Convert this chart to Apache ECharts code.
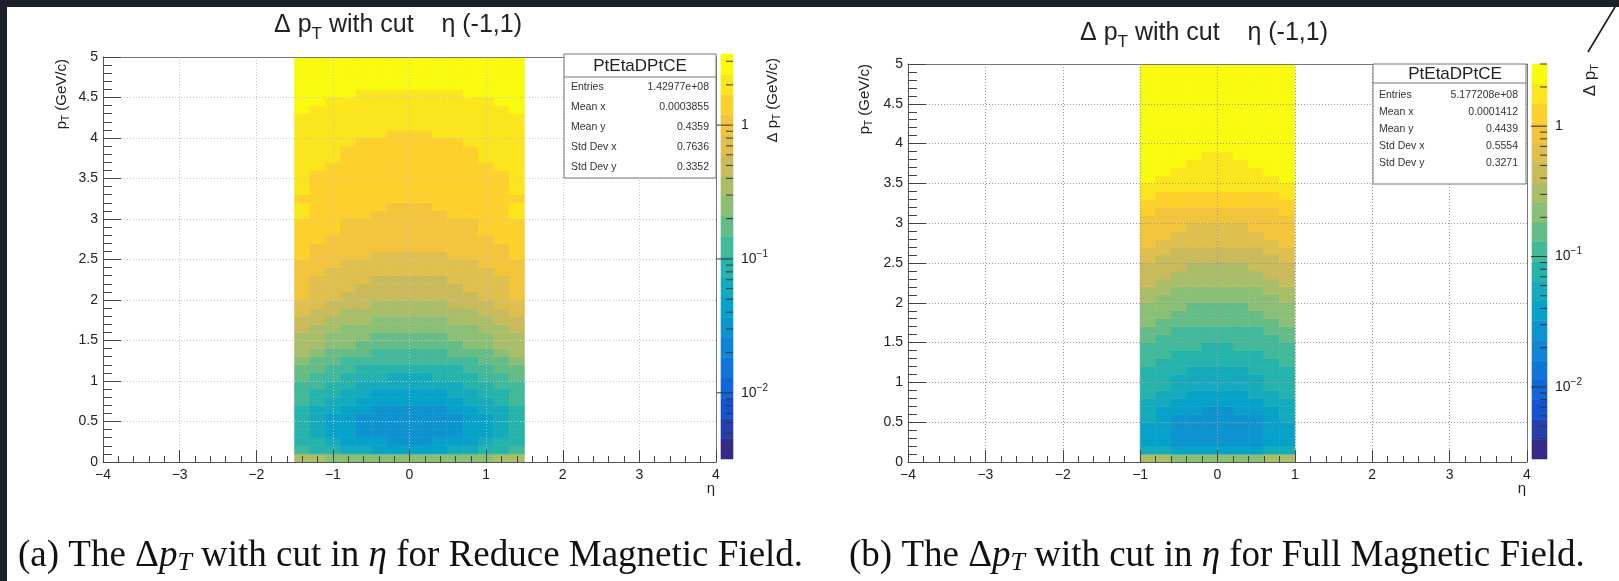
<!DOCTYPE html>
<html><head><meta charset="utf-8">
<script src="https://cdn.jsdelivr.net/npm/echarts@6/dist/echarts.min.js"></script>
<style>html,body{margin:0;padding:0;background:#fff}#c{width:1619px;height:581px}</style>
</head><body><div id="c"></div>
<script>
// ---------------- data ----------------
const ptEdges = [0,0.1,0.2,0.3,0.4,0.5,0.6,0.7,0.8,0.9,1,1.1,1.2,1.3,1.4,1.5,1.6,1.7,1.8,1.9,2,
  2.1,2.2,2.3,2.4,2.5,2.6,2.7,2.8,2.9,3,3.1,3.2,3.3,3.4,3.5,3.6,3.7,3.8,3.9,4,4.1,4.2,4.3,4.4,4.5,4.6,4.7,4.8,4.9,5];
const leftEtaEdges = [-1.5,-1.3,-1.1,-0.9,-0.7,-0.5,-0.3,-0.1,0.1,0.3,0.5,0.7,0.9,1.1,1.3,1.5];
const rightEtaEdges = [-1,-0.8,-0.6,-0.4,-0.2,0,0.2,0.4,0.6,0.8,1];
// mean delta pT (GeV/c) per bin, rows from pT = 0 upward
const leftValues = [
 [0.35,0.35,0.25,0.25,0.25,0.25,0.25,0.25,0.25,0.25,0.25,0.25,0.25,0.35,0.35],
 [0.12,0.087,0.087,0.062,0.062,0.044,0.044,0.044,0.044,0.044,0.062,0.062,0.087,0.087,0.12],
 [0.087,0.087,0.062,0.044,0.044,0.044,0.031,0.031,0.031,0.044,0.044,0.044,0.062,0.087,0.087],
 [0.087,0.062,0.044,0.044,0.031,0.031,0.031,0.031,0.031,0.031,0.031,0.044,0.044,0.062,0.087],
 [0.087,0.062,0.044,0.044,0.031,0.031,0.030,0.030,0.030,0.031,0.031,0.044,0.044,0.062,0.087],
 [0.087,0.062,0.044,0.044,0.031,0.031,0.031,0.030,0.031,0.031,0.031,0.044,0.044,0.062,0.087],
 [0.087,0.062,0.062,0.044,0.044,0.032,0.032,0.032,0.032,0.032,0.044,0.044,0.062,0.062,0.087],
 [0.12,0.087,0.062,0.062,0.044,0.044,0.044,0.044,0.044,0.044,0.044,0.062,0.062,0.087,0.12],
 [0.12,0.087,0.087,0.062,0.062,0.046,0.046,0.046,0.046,0.046,0.062,0.062,0.087,0.087,0.12],
 [0.12,0.12,0.087,0.087,0.062,0.062,0.062,0.062,0.062,0.062,0.062,0.087,0.087,0.12,0.12],
 [0.17,0.12,0.12,0.087,0.087,0.087,0.065,0.065,0.065,0.087,0.087,0.087,0.12,0.12,0.17],
 [0.17,0.17,0.12,0.12,0.087,0.087,0.087,0.087,0.087,0.087,0.087,0.12,0.12,0.17,0.17],
 [0.25,0.17,0.17,0.12,0.12,0.12,0.12,0.12,0.12,0.12,0.12,0.12,0.17,0.17,0.25],
 [0.35,0.25,0.17,0.17,0.17,0.12,0.12,0.12,0.12,0.12,0.17,0.17,0.17,0.25,0.35],
 [0.35,0.35,0.25,0.25,0.17,0.17,0.17,0.17,0.17,0.17,0.17,0.25,0.25,0.35,0.35],
 [0.35,0.35,0.25,0.25,0.25,0.18,0.18,0.18,0.18,0.18,0.25,0.25,0.25,0.35,0.35],
 [0.50,0.35,0.35,0.25,0.25,0.25,0.25,0.25,0.25,0.25,0.25,0.25,0.35,0.35,0.50],
 [0.50,0.50,0.35,0.35,0.35,0.26,0.26,0.26,0.26,0.26,0.35,0.35,0.35,0.50,0.50],
 [0.70,0.50,0.50,0.35,0.35,0.35,0.35,0.35,0.35,0.35,0.35,0.35,0.50,0.50,0.70],
 [0.70,0.70,0.50,0.50,0.50,0.37,0.37,0.37,0.37,0.37,0.50,0.50,0.50,0.70,0.70],
 [1.0,0.70,0.70,0.50,0.50,0.50,0.50,0.50,0.50,0.50,0.50,0.50,0.70,0.70,1.0],
 [1.0,0.70,0.70,0.70,0.50,0.50,0.50,0.50,0.50,0.50,0.50,0.70,0.70,0.70,1.0],
 [1.0,0.72,0.72,0.72,0.72,0.52,0.52,0.52,0.52,0.52,0.72,0.72,0.72,0.72,1.0],
 [1.0,1.0,0.70,0.70,0.70,0.70,0.70,0.70,0.70,0.70,0.70,0.70,0.70,1.0,1.0],
 [1.0,1.0,1.0,0.72,0.72,0.72,0.72,0.72,0.72,0.72,0.72,0.72,1.0,1.0,1.0],
 [1.4,1.0,1.0,1.0,1.0,0.75,0.75,0.75,0.75,0.75,1.0,1.0,1.0,1.0,1.4],
 [1.4,1.0,1.0,1.0,1.0,1.0,1.0,1.0,1.0,1.0,1.0,1.0,1.0,1.0,1.4],
 [1.4,1.4,1.0,1.0,1.0,1.0,1.0,1.0,1.0,1.0,1.0,1.0,1.0,1.4,1.4],
 [1.4,1.4,1.4,1.0,1.0,1.0,1.0,1.0,1.0,1.0,1.0,1.0,1.4,1.4,1.4],
 [1.4,1.4,1.4,1.05,1.05,1.05,1.05,1.05,1.05,1.05,1.05,1.05,1.4,1.4,1.4],
 [2.0,1.4,1.4,1.4,1.4,1.1,1.1,1.1,1.1,1.1,1.4,1.4,1.4,1.4,2.0],
 [2.0,1.4,1.4,1.4,1.4,1.4,1.12,1.12,1.12,1.4,1.4,1.4,1.4,1.4,2.0],
 [1.4,1.4,1.4,1.4,1.4,1.4,1.4,1.4,1.4,1.4,1.4,1.4,1.4,1.4,1.4],
 [2.0,1.4,1.4,1.4,1.4,1.4,1.4,1.4,1.4,1.4,1.4,1.4,1.4,1.4,2.0],
 [2.0,1.45,1.45,1.45,1.45,1.45,1.45,1.45,1.45,1.45,1.45,1.45,1.45,1.45,2.0],
 [2.0,1.5,1.5,1.5,1.5,1.5,1.5,1.5,1.5,1.5,1.5,1.5,1.5,1.5,2.0],
 [2.0,2.0,1.5,1.5,1.5,1.5,1.5,1.5,1.5,1.5,1.5,1.5,1.5,2.0,2.0],
 [2.0,2.0,2.0,1.55,1.55,1.55,1.55,1.55,1.55,1.55,1.55,1.55,2.0,2.0,2.0],
 [2.0,2.0,2.0,1.6,1.6,1.6,1.6,1.6,1.6,1.6,1.6,1.6,2.0,2.0,2.0],
 [2.0,2.0,2.0,2.0,1.6,1.6,1.6,1.6,1.6,1.6,1.6,2.0,2.0,2.0,2.0],
 [2.0,2.0,2.0,2.0,2.0,2.0,1.65,1.65,1.65,2.0,2.0,2.0,2.0,2.0,2.0],
 [2.0,2.0,2.0,2.0,2.0,2.0,2.0,2.0,2.0,2.0,2.0,2.0,2.0,2.0,2.0],
 [2.1,2.1,2.1,2.1,2.1,2.1,2.1,2.1,2.1,2.1,2.1,2.1,2.1,2.1,2.1],
 [2.8,2.2,2.2,2.2,2.2,2.2,2.2,2.2,2.2,2.2,2.2,2.2,2.2,2.2,2.8],
 [2.8,2.8,2.2,2.2,2.2,2.2,2.2,2.2,2.2,2.2,2.2,2.2,2.2,2.8,2.8],
 [2.8,2.8,2.8,2.8,2.3,2.3,2.3,2.3,2.3,2.3,2.3,2.8,2.8,2.8,2.8],
 [2.8,2.8,2.8,2.8,2.8,2.8,2.8,2.8,2.8,2.8,2.8,2.8,2.8,2.8,2.8],
 [2.8,2.8,2.8,2.8,2.8,2.8,2.8,2.8,2.8,2.8,2.8,2.8,2.8,2.8,2.8],
 [2.9,2.9,2.9,2.9,2.9,2.9,2.9,2.9,2.9,2.9,2.9,2.9,2.9,2.9,2.9],
 [3.0,3.0,3.0,3.0,3.0,3.0,3.0,3.0,3.0,3.0,3.0,3.0,3.0,3.0,3.0]
];
const rightValues = [
 [0.31,0.31,0.22,0.22,0.22,0.22,0.22,0.22,0.31,0.31],
 [0.054,0.054,0.038,0.038,0.038,0.038,0.038,0.038,0.054,0.054],
 [0.038,0.038,0.027,0.027,0.027,0.027,0.027,0.027,0.038,0.038],
 [0.038,0.038,0.027,0.026,0.026,0.026,0.026,0.027,0.038,0.038],
 [0.038,0.038,0.027,0.026,0.026,0.026,0.026,0.027,0.038,0.038],
 [0.054,0.038,0.027,0.027,0.027,0.027,0.027,0.027,0.038,0.054],
 [0.054,0.038,0.038,0.038,0.028,0.028,0.038,0.038,0.038,0.054],
 [0.054,0.054,0.038,0.038,0.038,0.038,0.038,0.038,0.054,0.054],
 [0.077,0.054,0.054,0.040,0.040,0.040,0.040,0.054,0.054,0.077],
 [0.077,0.077,0.054,0.054,0.054,0.054,0.054,0.054,0.077,0.077],
 [0.077,0.077,0.056,0.056,0.056,0.056,0.056,0.056,0.077,0.077],
 [0.077,0.077,0.077,0.058,0.058,0.058,0.058,0.077,0.077,0.077],
 [0.11,0.077,0.077,0.077,0.077,0.077,0.077,0.077,0.077,0.11],
 [0.11,0.11,0.080,0.080,0.080,0.080,0.080,0.080,0.11,0.11],
 [0.11,0.11,0.11,0.11,0.085,0.085,0.11,0.11,0.11,0.11],
 [0.155,0.11,0.11,0.11,0.11,0.11,0.11,0.11,0.11,0.155],
 [0.155,0.155,0.12,0.12,0.12,0.12,0.12,0.12,0.155,0.155],
 [0.22,0.155,0.155,0.155,0.155,0.155,0.155,0.155,0.155,0.22],
 [0.22,0.22,0.155,0.155,0.155,0.155,0.155,0.155,0.22,0.22],
 [0.22,0.22,0.22,0.165,0.165,0.165,0.165,0.22,0.22,0.22],
 [0.31,0.22,0.22,0.22,0.22,0.22,0.22,0.22,0.22,0.31],
 [0.31,0.31,0.23,0.23,0.23,0.23,0.23,0.23,0.31,0.31],
 [0.44,0.31,0.31,0.31,0.31,0.31,0.31,0.31,0.31,0.44],
 [0.44,0.44,0.31,0.31,0.31,0.31,0.31,0.31,0.44,0.44],
 [0.44,0.44,0.44,0.33,0.33,0.33,0.33,0.44,0.44,0.44],
 [0.63,0.44,0.44,0.44,0.44,0.44,0.44,0.44,0.44,0.63],
 [0.63,0.63,0.44,0.44,0.44,0.44,0.44,0.44,0.63,0.63],
 [0.89,0.63,0.63,0.63,0.63,0.63,0.63,0.63,0.63,0.89],
 [0.89,0.89,0.63,0.63,0.63,0.63,0.63,0.63,0.89,0.89],
 [0.89,0.89,0.89,0.66,0.66,0.66,0.66,0.89,0.89,0.89],
 [0.89,0.89,0.89,0.89,0.89,0.89,0.89,0.89,0.89,0.89],
 [1.26,0.92,0.92,0.92,0.92,0.92,0.92,0.92,0.92,1.26],
 [1.26,1.26,1.26,1.26,1.26,1.26,1.26,1.26,1.26,1.26],
 [1.79,1.30,1.30,1.30,1.30,1.30,1.30,1.30,1.30,1.79],
 [1.79,1.79,1.79,1.79,1.79,1.79,1.79,1.79,1.79,1.79],
 [2.5,1.79,1.79,1.79,1.79,1.79,1.79,1.79,1.79,2.5],
 [2.5,2.5,1.85,1.85,1.85,1.85,1.85,1.85,2.5,2.5],
 [2.5,2.5,2.5,1.9,1.9,1.9,1.9,2.5,2.5,2.5],
 [2.5,2.5,2.5,2.5,2.0,2.0,2.5,2.5,2.5,2.5],
 [2.5,2.5,2.5,2.5,2.5,2.5,2.5,2.5,2.5,2.5],
 [2.5,2.5,2.5,2.5,2.5,2.5,2.5,2.5,2.5,2.5],
 [2.5,2.5,2.5,2.5,2.5,2.5,2.5,2.5,2.5,2.5],
 [2.55,2.55,2.55,2.55,2.55,2.55,2.55,2.55,2.55,2.55],
 [2.55,2.55,2.55,2.55,2.55,2.55,2.55,2.55,2.55,2.55],
 [2.6,2.6,2.6,2.6,2.6,2.6,2.6,2.6,2.6,2.6],
 [2.6,2.6,2.6,2.6,2.6,2.6,2.6,2.6,2.6,2.6],
 [2.65,2.65,2.65,2.65,2.65,2.65,2.65,2.65,2.65,2.65],
 [2.65,2.65,2.65,2.65,2.65,2.65,2.65,2.65,2.65,2.65],
 [2.7,2.7,2.7,2.7,2.7,2.7,2.7,2.7,2.7,2.7],
 [2.7,2.7,2.7,2.7,2.7,2.7,2.7,2.7,2.7,2.7]
];
const leftZRange = [0.0032, 3.4];
const rightZRange = [0.0028, 3.0];
const cbMajorTicks = [0.01, 0.1, 1];
const cbMinorTicks = [0.004,0.005,0.006,0.007,0.008,0.009,0.02,0.03,0.04,0.05,0.06,0.07,0.08,0.09,0.2,0.3,0.4,0.5,0.6,0.7,0.8,0.9,2,3];
const statNames = ['Entries', 'Mean x', 'Mean y', 'Std Dev x', 'Std Dev y'];
const leftStats = ['1.42977e+08', '0.0003855', '0.4359', '0.7636', '0.3352'];
const rightStats = ['5.177208e+08', '0.0001412', '0.4439', '0.5554', '0.3271'];
const histName = 'PtEtaDPtCE';
const plotTitleText = '\u0394 p{sub|T} with cut    \u03b7 (-1,1)';
const captionA = '(a) The \u0394{it|p}{sub|T} with cut in {it|\u03b7} for Reduce Magnetic Field.';
const captionB = '(b) The \u0394{it|p}{sub|T} with cut in {it|\u03b7} for Full Magnetic Field.';

// ---------------- styling / helpers ----------------
const FONT = 'Liberation Sans';
const SERIF = 'Liberation Serif';
const DARK = '#1c2029';
const NCONT = 20;
const birdStops = [0, 0.125, 0.25, 0.375, 0.5, 0.625, 0.75, 0.875, 1];
const birdR = [0.2082, 0.0592, 0.0780, 0.0232, 0.1802, 0.5301, 0.8186, 0.9956, 0.9764];
const birdG = [0.1664, 0.3599, 0.5041, 0.6419, 0.7178, 0.7492, 0.7328, 0.7862, 0.9832];
const birdB = [0.5293, 0.8684, 0.8385, 0.7914, 0.6425, 0.4662, 0.3499, 0.1968, 0.0539];
function bird(t) {
  t = Math.max(0, Math.min(1, t));
  let k = 0;
  while (k < birdStops.length - 2 && t > birdStops[k + 1]) k++;
  const f = (t - birdStops[k]) / (birdStops[k + 1] - birdStops[k]);
  const c = a => Math.round(255 * (a[k] + (a[k + 1] - a[k]) * f));
  return 'rgb(' + c(birdR) + ',' + c(birdG) + ',' + c(birdB) + ')';
}
function levelOf(v, zr) {
  const a = Math.log10(zr[0]), b = Math.log10(zr[1]);
  let i = Math.floor((Math.log10(v) - a) / (b - a) * NCONT);
  return Math.max(0, Math.min(NCONT - 1, i));
}
function levelColor(i) { return bird(i / (NCONT - 1)); }

function buildCells(etaEdges, values) {
  const out = [];
  for (let r = 0; r < values.length; r++)
    for (let c = 0; c < values[r].length; c++)
      out.push([etaEdges[c], etaEdges[c + 1], ptEdges[r], ptEdges[r + 1], values[r][c]]);
  return out;
}
function buildBands(zr) {
  const a = Math.log10(zr[0]), b = Math.log10(zr[1]);
  const out = [];
  for (let i = 0; i < NCONT; i++)
    out.push([0, 1, Math.pow(10, a + (b - a) * i / NCONT), Math.pow(10, a + (b - a) * (i + 1) / NCONT), i]);
  return out;
}
function buildTicks() {
  return cbMajorTicks.map(v => [1, v, 16]).concat(cbMinorTicks.map(v => [1, v, 7]));
}
function heatRender(zr) {
  return function (params, api) {
    const a = api.coord([api.value(0), api.value(3)]);
    const b = api.coord([api.value(1), api.value(2)]);
    const col = levelColor(levelOf(api.value(4), zr));
    return { type: 'rect', shape: { x: a[0], y: a[1], width: b[0] - a[0], height: b[1] - a[1] },
      style: { fill: col, stroke: col, lineWidth: 0.6 } };
  };
}
function bandRender(params, api) {
  const a = api.coord([api.value(0), api.value(3)]);
  const b = api.coord([api.value(1), api.value(2)]);
  const col = levelColor(api.value(4));
  return { type: 'rect', shape: { x: a[0], y: a[1], width: b[0] - a[0], height: b[1] - a[1] },
    style: { fill: col, stroke: col, lineWidth: 0.6 } };
}
function tickRender(params, api) {
  const p = api.coord([api.value(0), api.value(1)]);
  const len = api.value(2);
  return { type: 'line', shape: { x1: p[0] - len, y1: p[1], x2: p[0], y2: p[1] },
    style: { stroke: '#333', lineWidth: 1 } };
}
const minusFmt = v => (v < 0 ? '\u2212' + (-v) : String(v));
function mainX(gi, gridColor) {
  return { type: 'value', gridIndex: gi, min: -4, max: 4, interval: 1, z: 5,
    axisLine: { show: true, onZero: false, lineStyle: { color: '#555', width: 1 } },
    axisTick: { show: true, inside: true, length: 12, lineStyle: { color: '#444' } },
    minorTick: { show: true, splitNumber: 5, length: 6, lineStyle: { color: '#444' } },
    splitLine: { show: true, lineStyle: { color: gridColor, type: [1, 2], width: 1 } },
    axisLabel: { margin: 6, fontSize: 14, color: '#222', fontFamily: FONT, formatter: minusFmt } };
}
function mainY(gi, gridColor) {
  return { type: 'value', gridIndex: gi, min: 0, max: 5, interval: 0.5, z: 5,
    axisLine: { show: true, onZero: false, lineStyle: { color: '#555', width: 1 } },
    axisTick: { show: true, inside: true, length: 18, lineStyle: { color: '#444' } },
    minorTick: { show: true, splitNumber: 5, length: 9, lineStyle: { color: '#444' } },
    splitLine: { show: true, lineStyle: { color: gridColor, type: [1, 2], width: 1 } },
    axisLabel: { margin: 5, fontSize: 14, color: '#222', fontFamily: FONT } };
}
function frameX(gi) {
  return { type: 'value', gridIndex: gi, position: 'top', min: -4, max: 4, z: 5,
    axisLine: { show: true, onZero: false, lineStyle: { color: '#777' } },
    axisTick: { show: false }, axisLabel: { show: false }, splitLine: { show: false } };
}
function frameY(gi) {
  return { type: 'value', gridIndex: gi, position: 'right', min: 0, max: 5, z: 5,
    axisLine: { show: true, onZero: false, lineStyle: { color: '#777' } },
    axisTick: { show: false }, axisLabel: { show: false }, splitLine: { show: false } };
}
function cbX(gi) {
  return { type: 'value', gridIndex: gi, min: 0, max: 1, show: false };
}
function cbY(gi, zr) {
  return { type: 'log', logBase: 10, gridIndex: gi, position: 'right', min: zr[0], max: zr[1],
    axisLine: { show: false }, axisTick: { show: false }, splitLine: { show: false },
    axisLabel: { margin: 8, fontSize: 14, color: '#222', fontFamily: FONT,
      formatter: v => {
        const e = Math.log10(v), r = Math.round(e);
        if (Math.abs(e - r) > 1e-6) return '';
        if (r === 0) return '1';
        return '10{sup|' + (r < 0 ? '\u2212' : '') + Math.abs(r) + '}';
      },
      rich: { sup: { fontSize: 10, fontFamily: FONT, color: '#222', padding: [0, 0, 10, 0] } } } };
}

// graphic helpers
function text(x, y, str, size, align, color) {
  return { type: 'text', x: x, y: y, z: 60,
    style: { text: str, fontSize: size, fontFamily: FONT, fill: color || '#222', align: align || 'left', verticalAlign: 'middle' } };
}
function rotTitle(x, y, str, size, subSize, subPad) {
  return { type: 'text', x: x, y: y, z: 60, rotation: Math.PI / 2,
    style: { text: str, fontSize: size, fontFamily: FONT, fill: '#222', align: 'right', verticalAlign: 'middle',
      rich: { sub: { fontSize: subSize, fontFamily: FONT, fill: '#222', padding: [subPad, 0, 0, 0] } } } };
}
function plotTitle(x, y) {
  return { type: 'text', x: x, y: y, z: 60,
    style: { text: plotTitleText, fontSize: 25, fontFamily: FONT, fill: '#222',
      align: 'center', verticalAlign: 'middle',
      rich: { sub: { fontSize: 17, fontFamily: FONT, fill: '#222', padding: [18, 0, 0, 0] } } } };
}
function statsBox(x, y, w, h, sepY, titleX, rowY0, rowStep, labX, valX, values, titleSize, rowSize) {
  const els = [
    { type: 'rect', z: 55, shape: { x: x, y: y, width: w, height: h }, style: { fill: '#fff', stroke: '#777', lineWidth: 1 } },
    { type: 'line', z: 56, shape: { x1: x, y1: sepY, x2: x + w, y2: sepY }, style: { stroke: '#777', lineWidth: 1 } },
    text(titleX, (y + sepY) / 2 + 1, histName, titleSize, 'center', '#222')
  ];
  statNames.forEach((n, i) => {
    els.push(text(labX, rowY0 + i * rowStep, n, rowSize, 'left', '#333'));
    els.push(text(valX, rowY0 + i * rowStep, values[i], rowSize, 'right', '#333'));
  });
  return els;
}
function caption(x, y, str) {
  return { type: 'text', x: x, y: y, z: 60,
    style: { text: str, fontSize: 37, fontFamily: SERIF, fill: '#111', align: 'left', verticalAlign: 'middle',
      rich: { it: { fontSize: 37, fontFamily: SERIF, fontStyle: 'italic', fill: '#111' },
              sub: { fontSize: 26, fontFamily: SERIF, fontStyle: 'italic', fill: '#111', padding: [15, 0, 0, 0] } } } };
}

const graphics = [
  { type: 'rect', z: 100, shape: { x: 0, y: 0, width: 1619, height: 7 }, style: { fill: DARK } },
  { type: 'rect', z: 100, shape: { x: 0, y: 0, width: 7, height: 581 }, style: { fill: DARK } },
  { type: 'line', z: 100, shape: { x1: 1618, y1: 2, x2: 1588, y2: 52 }, style: { stroke: '#1a1a1a', lineWidth: 1.6 } },
  plotTitle(398, 25),
  plotTitle(1204, 33),
  rotTitle(62, 59, 'p{sub|T} (GeV/c)', 15, 10, 8),
  rotTitle(773, 58, '\u0394 p{sub|T} (GeV/c)', 15, 10, 8),
  rotTitle(865, 64, 'p{sub|T} (GeV/c)', 15, 10, 8),
  rotTitle(1590, 64, '\u0394 p{sub|T}', 17, 11, 9),
  text(715, 489, '\u03b7', 15, 'right'),
  text(1526, 489, '\u03b7', 15, 'right'),
  caption(18, 556, captionA),
  caption(849, 556, captionB)
].concat(
  statsBox(564, 54, 152, 124, 77, 640, 87, 20, 571, 709, leftStats, 17, 10.5),
  statsBox(1373, 64, 153, 120, 83, 1455, 95, 17, 1379, 1518, rightStats, 17, 10.5)
);

const option = {
  animation: false,
  backgroundColor: '#fff',
  textStyle: { fontFamily: FONT },
  grid: [
    { left: 103, top: 57, width: 613, height: 405 },
    { left: 721, top: 54, width: 12, height: 405 },
    { left: 908, top: 64, width: 619, height: 398 },
    { left: 1532, top: 64, width: 15, height: 395 }
  ],
  xAxis: [mainX(0, '#c4c4c4'), frameX(0), cbX(1), mainX(2, '#9a9a9a'), frameX(2), cbX(3)],
  yAxis: [mainY(0, '#c4c4c4'), frameY(0), cbY(1, leftZRange), mainY(2, '#9a9a9a'), frameY(2), cbY(3, rightZRange)],
  series: [
    { type: 'custom', xAxisIndex: 0, yAxisIndex: 0, renderItem: heatRender(leftZRange), data: buildCells(leftEtaEdges, leftValues),
      encode: { x: [0, 1], y: [2, 3] }, clip: true, silent: true, z: 2 },
    { type: 'custom', xAxisIndex: 2, yAxisIndex: 2, renderItem: bandRender, data: buildBands(leftZRange),
      encode: { x: [0, 1], y: [2, 3] }, silent: true, z: 2 },
    { type: 'custom', xAxisIndex: 2, yAxisIndex: 2, renderItem: tickRender, data: buildTicks(),
      encode: { x: 0, y: 1 }, silent: true, z: 3 },
    { type: 'custom', xAxisIndex: 3, yAxisIndex: 3, renderItem: heatRender(rightZRange), data: buildCells(rightEtaEdges, rightValues),
      encode: { x: [0, 1], y: [2, 3] }, clip: true, silent: true, z: 2 },
    { type: 'custom', xAxisIndex: 5, yAxisIndex: 5, renderItem: bandRender, data: buildBands(rightZRange),
      encode: { x: [0, 1], y: [2, 3] }, silent: true, z: 2 },
    { type: 'custom', xAxisIndex: 5, yAxisIndex: 5, renderItem: tickRender, data: buildTicks(),
      encode: { x: 0, y: 1 }, silent: true, z: 3 }
  ],
  graphic: { elements: graphics }
};
const chart = echarts.init(document.getElementById('c'));
chart.setOption(option);
</script>
</body></html>
